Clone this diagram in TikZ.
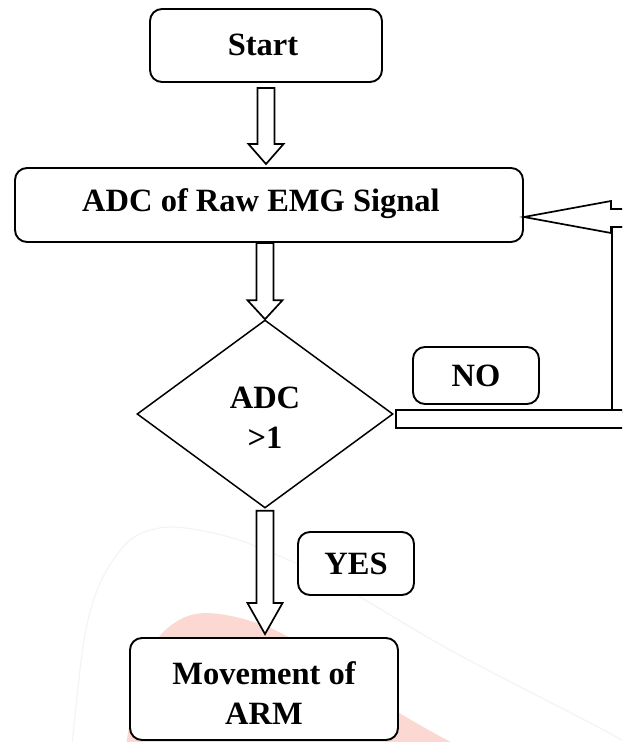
\documentclass[tikz,border=0pt]{standalone}
\usepackage{fontspec}
\setmainfont{Liberation Serif}
\usetikzlibrary{shapes.geometric,calc}
\definecolor{wmpink}{RGB}{252,216,210}
\definecolor{wmgray}{RGB}{244,244,244}
\newcommand\blockdown[3]{%
  \draw[blk] let \p1=(#1), \p2=(#2) in
    (\x1-8.5pt,\y1) -- (\x1+8.5pt,\y1) -- (\x1+8.5pt,\y2+#3pt) -- (\x1+17.5pt,\y2+#3pt)
    -- (\x1,\y2) -- (\x1-17.5pt,\y2+#3pt) -- (\x1-8.5pt,\y2+#3pt) -- cycle;}
\begin{document}
\begin{tikzpicture}[x=1pt,y=-1pt,
  lbl/.style={font=\fontsize{32.5}{40}\selectfont\bfseries, align=center, inner sep=0pt},
  box/.style={lbl, draw, line width=1.9pt, rounded corners=12pt, fill=white},
  dia/.style={lbl, draw, diamond, line width=1.5pt, fill=white},
  blk/.style={draw, line width=1.7pt, fill=white, line join=miter}]
\clip (0,0) rectangle (622,742);
\fill[white] (0,0) rectangle (622,742);
% watermark
\draw[wmgray, line width=1.2pt] plot[smooth] coordinates {(72,745) (84,640) (100,583) (130,540) (171,527) (239,540) (330,580) (450,650) (598,727) (630,745)};
\fill[wmpink] plot[smooth] coordinates {(126,746) (138,680) (159,637) (183,618) (207,613) (240,618) (279,632) (340,668) (398,712) (458,746)} -- cycle;
% nodes
\node[box, minimum width=232pt, minimum height=73pt] (start) at (266,45.5) {};
\node[lbl] (startt) at (263,45) {Start};
\node[box, minimum width=508pt, minimum height=74pt] (adc) at (269,205) {};
\node[lbl] (adct) at (261,204) {ADC of Raw EMG Signal};
\node[dia, minimum width=256pt, minimum height=188pt] (dec) at (265,414) {};
\node[lbl] (dect) at (265,418) {ADC\\>1};
\node[box, minimum width=126pt, minimum height=57pt] (no) at (476,375.5) {NO};
\node[box, minimum width=116pt, minimum height=63pt] (yes) at (356,563.5) {YES};
\node[box, minimum width=268pt, minimum height=102pt] (move) at (264,689) {};
\node[lbl] (movet) at (264,693) {Movement of\\ARM};
% down arrows
\blockdown{$(start.south)+(0,5)$}{$(adc.north)+(0,-3)$}{20}
\blockdown{dec.north |- adc.south}{dec.north}{19}
\blockdown{$(dec.south)+(0,2)$}{$(move.north)+(0,-3)$}{31}
% NO loop
\coordinate (tipL) at ($(adc.east)+(0,12)$);
\draw[blk] (612,227) rectangle (645,412);
\draw[blk] ($(dec.east)+(2,-4)$) rectangle (645,428);
\draw[blk] (645,209) -- (611,209) -- (611,201) -- (tipL) -- (611,233) -- (611,227) -- (645,227) -- cycle;
\end{tikzpicture}
\end{document}
